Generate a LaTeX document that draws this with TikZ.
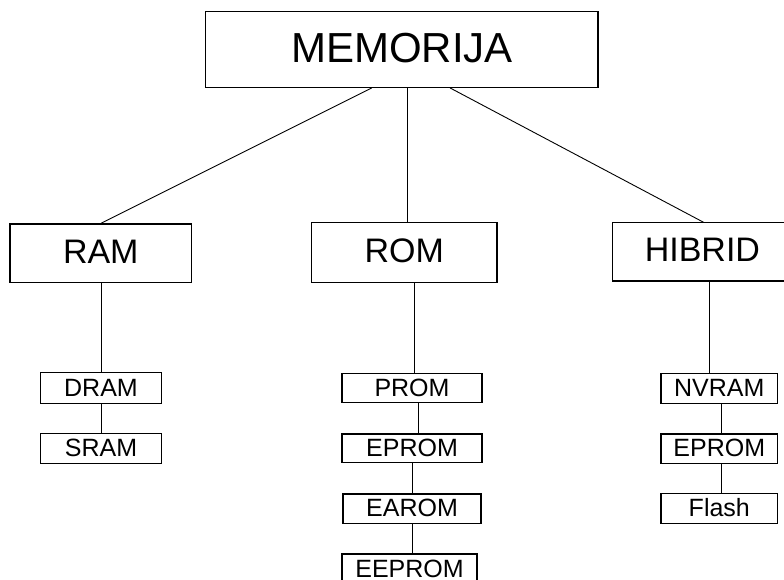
\documentclass[tikz,border=0pt]{standalone}
\usepackage{fontspec}
\setmainfont{Liberation Sans}
\usetikzlibrary{calc}
\begin{document}
\begin{tikzpicture}[x=1pt,y=-1pt,
  boxbase/.style={draw=black,line width=1.2pt,fill=white,inner sep=0pt,anchor=center},
  bigbox/.style={boxbase,font=\fontsize{42}{48}\selectfont,text height=30.1pt,text depth=4pt},
  midbox/.style={boxbase,font=\fontsize{34}{40}\selectfont,text height=24.3pt,text depth=4.4pt},
  smallbox/.style={boxbase,font=\fontsize{25}{30}\selectfont,text height=17.9pt,text depth=1.8pt},
  conn/.style={draw=black,line width=0.9pt}]
\useasboundingbox (0,0) rectangle (784,579);
\clip (0,0) rectangle (784,579);
\fill[white] (0,0) rectangle (784,579);
\node[bigbox,minimum width=392.3pt,minimum height=75.6pt] (mem) at (401.9,49.5) {MEMORIJA};
\node[midbox,minimum width=181.7pt,minimum height=58.7pt] (ram) at (100.8,253.3) {RAM};
\node[midbox,minimum width=185.3pt,minimum height=60.4pt] (rom) at (404.3,252.5) {ROM};
\node[midbox,minimum width=179.4pt,minimum height=58.3pt] (hib) at (702.4,251.9) {HIBRID};
\node[smallbox,minimum width=120.6pt,minimum height=30.6pt] (dram) at (101,388) {DRAM};
\node[smallbox,minimum width=120.6pt,minimum height=30pt] (sram) at (101,448.3) {SRAM};
\node[smallbox,minimum width=140pt,minimum height=29.4pt] (prom) at (412,388) {PROM};
\node[smallbox,minimum width=140pt,minimum height=28.3pt] (eprom) at (412,448.2) {EPROM};
\node[smallbox,minimum width=138pt,minimum height=29.3pt] (earom) at (412,508.7) {EAROM};
\node[smallbox,minimum width=135pt,minimum height=30pt] (eeprom) at (409.5,569) {EEPROM};
\node[smallbox,minimum width=116.7pt,minimum height=30pt] (nvram) at (719.3,388.3) {NVRAM};
\node[smallbox,minimum width=116.7pt,minimum height=29.3pt] (eprombis) at (719.3,448.7) {EPROM};
\node[smallbox,minimum width=116.7pt,minimum height=30pt] (flash) at (719.3,508.3) {Flash};
% connectors
\draw[conn] ($(mem.south)+(-30.2,0)$) -- ($(ram.north)+(0.2,0)$);
\draw[conn] ($(mem.south)+(5.8,0)$) -- ($(rom.north)+(3.4,0)$);
\draw[conn] ($(mem.south)+(48.1,0)$) -- ($(hib.north)+(0.9,0)$);
\draw[conn] (dram.north) -- (dram.north |- ram.south);
\draw[conn] (sram.north) -- (sram.north |- dram.south);
\coordinate (c1) at ($(prom.north)+(2.3,0)$);
\draw[conn] (c1) -- (c1 |- rom.south);
\coordinate (c2) at ($(eprom.north)+(6.3,0)$);
\draw[conn] (c2) -- (c2 |- prom.south);
\draw[conn] (earom.north) -- (earom.north |- eprom.south);
\draw[conn] (eeprom.north -| earom.north) -- (earom.south);
\coordinate (c3) at ($(nvram.north)+(-10,0)$);
\draw[conn] (c3) -- (c3 |- hib.south);
\coordinate (c4) at ($(eprombis.north)+(2.4,0)$);
\draw[conn] (c4) -- (c4 |- nvram.south);
\coordinate (c5) at ($(flash.north)+(2.4,0)$);
\draw[conn] (c5) -- (c5 |- eprombis.south);
\end{tikzpicture}
\end{document}
